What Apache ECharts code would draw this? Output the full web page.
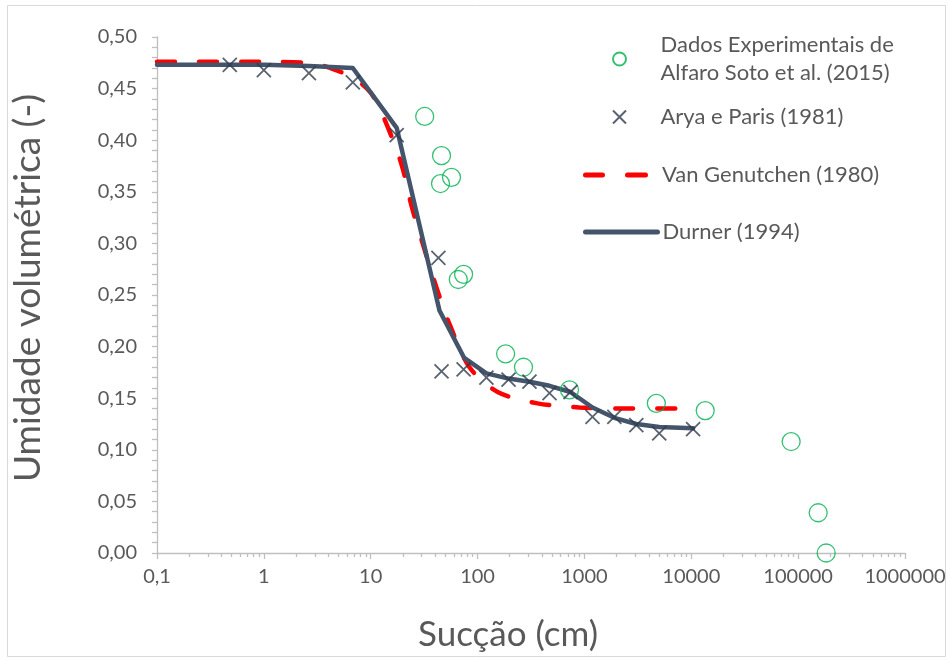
<!DOCTYPE html>
<html><head><meta charset="utf-8">
<script src="https://cdn.jsdelivr.net/npm/echarts@6/dist/echarts.min.js"></script>
<style>html,body{margin:0;padding:0;background:#fff}#c{width:950px;height:661px}</style>
</head><body><div id="c"></div>
<script>
// Experimental data (Alfaro Soto et al. 2015)
const expX = [32, 46, 45, 57, 66, 74, 183, 269, 725, 4710, 13500, 86000, 154000, 183000];
const expY = [0.423, 0.385, 0.358, 0.364, 0.265, 0.270, 0.193, 0.180, 0.158, 0.145, 0.138, 0.108, 0.039, 0.000];
// Arya e Paris (1981)
const aryaX = [0.48, 1.0, 2.64, 6.8, 17.5, 43, 46, 74, 121, 195, 306, 471, 740, 1190, 1905, 3060, 5010, 10400];
const aryaY = [0.473, 0.468, 0.465, 0.456, 0.405, 0.286, 0.176, 0.178, 0.170, 0.168, 0.166, 0.155, 0.156, 0.132, 0.132, 0.124, 0.116, 0.120];
// Van Genutchen (1980)
const vgX = [0.1, 1, 3, 5, 7, 10, 13.5, 19.5, 24, 30.6, 41, 55, 84, 154, 364, 897, 2220, 7250];
const vgY = [0.476, 0.476, 0.474, 0.467, 0.460, 0.446, 0.420, 0.376, 0.337, 0.300, 0.258, 0.221, 0.180, 0.156, 0.145, 0.141, 0.140, 0.140];
// Durner (1994)
const durX = [0.1, 0.48, 1.0, 2.64, 6.8, 17.5, 44, 75, 121, 195, 306, 471, 740, 1190, 1905, 3060, 5010, 10400];
const durY = [0.473, 0.473, 0.473, 0.472, 0.470, 0.412, 0.235, 0.189, 0.174, 0.169, 0.166, 0.162, 0.156, 0.141, 0.131, 0.125, 0.122, 0.121];
// Axis ticks
const xMajor = [0.1, 1, 10, 100, 1000, 10000, 100000, 1000000];
const xMinor = [];
for (let d = 0.1; d < 1000000; d *= 10) for (let k = 2; k <= 9; k++) xMinor.push(+(d * k).toPrecision(6));

const names = {
  exp: 'Dados Experimentais de Alfaro Soto et al. (2015)',
  arya: 'Arya e Paris (1981)',
  vg: 'Van Genutchen (1980)',
  dur: 'Durner (1994)'
};
const zip = (a, b) => a.map((v, i) => [v, b[i]]);
const FONT = 'Lato';
const GREY = '#595959';
const AXIS = '#BFBFBF';
const RED = '#FF0000';
const SLATE = '#44546A';
const DASH = [18, 24];
const DASH_ICON = 'path://M2.5,0h17a2.5,2.5 0 0 1 0,5h-17a2.5,2.5 0 0 1 0,-5z M44.5,0h18a2.5,2.5 0 0 1 0,5h-18a2.5,2.5 0 0 1 0,-5z';

const chart = echarts.init(document.getElementById('c'), null, {renderer: 'canvas'});
const legendText = {fontFamily: FONT, fontSize: 22, color: GREY, lineHeight: 28};
const legendBase = {
  orient: 'vertical', left: 583, itemWidth: 72, itemHeight: 13, padding: 0,
  selectedMode: false, textStyle: legendText
};
const hiddenSym = {opacity: 0, color: 'rgba(0,0,0,0)', borderWidth: 0};
chart.setOption({
  animation: false,
  textStyle: {fontFamily: FONT},
  graphic: [{type: 'rect', shape: {x: 7.5, y: 5.5, width: 938, height: 651}, style: {fill: 'none', stroke: '#D9D9D9', lineWidth: 1}, silent: true}],
  grid: {left: 157, right: 45, top: 37, bottom: 108, containLabel: false},
  legend: [
    Object.assign({}, legendBase, {top: 4, left: 612, data: [names.exp],
      formatter: () => 'Dados Experimentais de\nAlfaro Soto et al. (2015)',
      textStyle: Object.assign({}, legendText, {padding: [54, 0, 0, 0]})}),
    Object.assign({}, legendBase, {top: 103, left: 612, data: [names.arya]}),
    Object.assign({}, legendBase, {top: 161, itemWidth: 65, data: [{name: names.vg, icon: DASH_ICON}],
      itemStyle: {color: RED, opacity: 1, borderWidth: 0},
      textStyle: Object.assign({}, legendText, {padding: [0, 0, 0, 9]})}),
    Object.assign({}, legendBase, {top: 218, data: [names.dur], itemStyle: hiddenSym,
      lineStyle: {width: 5, color: SLATE, cap: 'round'}})
  ],
  xAxis: [{
    type: 'log', logBase: 10, min: 0.1, max: 1000000,
    name: 'Sucção (cm)', nameLocation: 'middle', nameGap: 64,
    nameTextStyle: {fontFamily: FONT, fontSize: 35, color: GREY, padding: [0, 46, 0, 0]},
    axisLine: {show: true, onZero: false, lineStyle: {color: AXIS, width: 1.3}},
    axisTick: {show: true, length: 6, customValues: xMajor, lineStyle: {color: AXIS, width: 1.3}},
    axisLabel: {customValues: xMajor, margin: 14, fontFamily: FONT, fontSize: 20, color: GREY,
      formatter: v => String(+(+v).toPrecision(6)).replace('.', ',')},
    splitLine: {show: false}
  }, {
    type: 'log', logBase: 10, min: 0.1, max: 1000000, position: 'bottom',
    axisLine: {show: false},
    axisTick: {show: true, length: 4, customValues: xMinor, lineStyle: {color: AXIS, width: 1.3}},
    axisLabel: {show: false},
    splitLine: {show: false}
  }],
  yAxis: {
    type: 'value', min: 0, max: 0.5, interval: 0.05,
    name: 'Umidade volumétrica (-)', nameLocation: 'middle', nameGap: 110,
    nameTextStyle: {fontFamily: FONT, fontSize: 37, color: GREY, padding: [0, 0, 0, 14]},
    axisLine: {show: true, onZero: false, lineStyle: {color: AXIS, width: 1.3}},
    axisTick: {show: true, length: 5, lineStyle: {color: AXIS, width: 1.3}},
    minorTick: {show: true, splitNumber: 5, length: 5, lineStyle: {color: AXIS, width: 1.3}},
    axisLabel: {margin: 20, fontFamily: FONT, fontSize: 20, color: GREY,
      formatter: v => v.toFixed(2).replace('.', ',')},
    splitLine: {show: false}
  },
  series: [
    {name: names.vg, type: 'line', data: zip(vgX, vgY), symbol: 'none', smooth: 0.3,
      lineStyle: {color: RED, width: 4.5, type: DASH, cap: 'round'}, itemStyle: {color: RED}, z: 2},
    {name: names.dur, type: 'line', data: zip(durX, durY), symbol: 'none',
      lineStyle: {color: SLATE, width: 4.5, join: 'round', cap: 'round'}, itemStyle: {color: SLATE}, z: 3},
    {name: names.exp, type: 'scatter', data: zip(expX, expY), symbol: 'circle', symbolSize: 18,
      itemStyle: {color: 'rgba(0,0,0,0)', borderColor: '#00B050', borderWidth: 1.3}, z: 4},
    {name: names.arya, type: 'scatter', data: zip(aryaX, aryaY), symbol: 'path://M0,0L10,10M10,0L0,10', symbolSize: 14,
      itemStyle: {color: 'rgba(0,0,0,0)', borderColor: '#2F3B4C', borderWidth: 1.8}, z: 5}
  ]
});
</script></body></html>
